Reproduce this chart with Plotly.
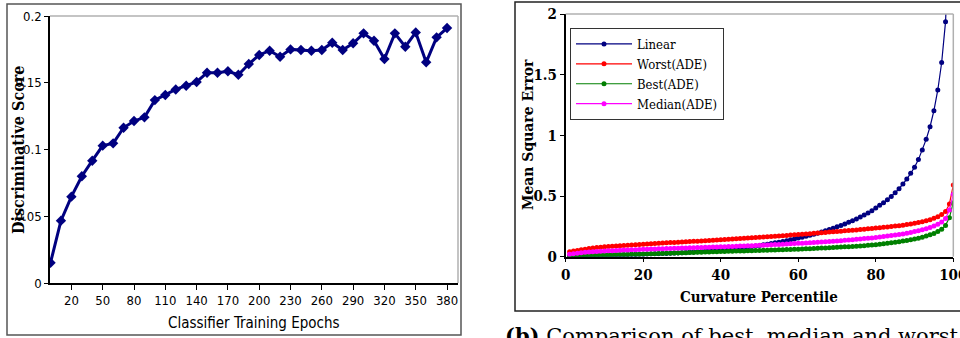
import plotly.graph_objects as go

# ---------------- data: left panel ----------------
epochs = list(range(0, 390, 10))
disc_score = [0.0152, 0.0467, 0.0647, 0.0800, 0.0916, 0.1029, 0.1046, 0.1163, 0.1213, 0.1241,
              0.1370, 0.1408, 0.1450, 0.1478, 0.1506, 0.1575, 0.1575, 0.1586, 0.1560, 0.1640,
              0.1708, 0.1740, 0.1695, 0.1750, 0.1745, 0.1740, 0.1745, 0.1800, 0.1745, 0.1796,
              0.1870, 0.1815, 0.1678, 0.1870, 0.1770, 0.1877, 0.1653, 0.1840, 0.1910]
left_xticks = [20, 50, 80, 110, 140, 170, 200, 230, 260, 290, 320, 350, 380]
left_yticks = [0, 0.05, 0.1, 0.15, 0.2]
left_yticklabels = ["0", "0.05", "0.1", "0.15", "0.2"]

# ---------------- data: right panel ----------------
percentile = list(range(1, 101))
linear = [0.002, 0.003, 0.004, 0.005, 0.006, 0.007, 0.008, 0.009, 0.010, 0.011,
          0.012, 0.013, 0.014, 0.015, 0.016, 0.017, 0.018, 0.019, 0.020, 0.021,
          0.022, 0.023, 0.024, 0.025, 0.026, 0.027, 0.028, 0.030, 0.031, 0.032,
          0.034, 0.036, 0.038, 0.040, 0.042, 0.044, 0.047, 0.050, 0.052, 0.055,
          0.058, 0.061, 0.065, 0.069, 0.073, 0.077, 0.081, 0.085, 0.089, 0.093,
          0.098, 0.103, 0.108, 0.114, 0.120, 0.126, 0.132, 0.139, 0.146, 0.154,
          0.161, 0.169, 0.177, 0.185, 0.194, 0.203, 0.213, 0.224, 0.235, 0.247,
          0.258, 0.270, 0.283, 0.297, 0.311, 0.327, 0.343, 0.360, 0.379, 0.401,
          0.423, 0.445, 0.470, 0.497, 0.527, 0.560, 0.599, 0.640, 0.687, 0.737,
          0.800, 0.879, 0.967, 1.071, 1.203, 1.374, 1.600, 1.937, 2.500, 3.500]
worst = [0.040, 0.046, 0.052, 0.057, 0.062, 0.067, 0.071, 0.075, 0.078, 0.081,
         0.084, 0.087, 0.089, 0.091, 0.093, 0.095, 0.097, 0.099, 0.101, 0.103,
         0.105, 0.107, 0.109, 0.111, 0.112, 0.114, 0.116, 0.118, 0.119, 0.121,
         0.123, 0.125, 0.127, 0.128, 0.130, 0.132, 0.134, 0.136, 0.138, 0.140,
         0.142, 0.144, 0.146, 0.148, 0.150, 0.152, 0.154, 0.156, 0.158, 0.160,
         0.162, 0.164, 0.166, 0.168, 0.170, 0.173, 0.175, 0.178, 0.180, 0.183,
         0.185, 0.188, 0.190, 0.193, 0.195, 0.198, 0.200, 0.203, 0.205, 0.208,
         0.210, 0.213, 0.215, 0.218, 0.221, 0.224, 0.227, 0.230, 0.233, 0.236,
         0.239, 0.242, 0.245, 0.249, 0.252, 0.256, 0.260, 0.265, 0.270, 0.275,
         0.281, 0.288, 0.296, 0.305, 0.316, 0.330, 0.347, 0.372, 0.435, 0.590]
best = [0.004, 0.006, 0.008, 0.010, 0.011, 0.012, 0.013, 0.014, 0.015, 0.016,
        0.016, 0.017, 0.018, 0.018, 0.019, 0.019, 0.020, 0.021, 0.021, 0.022,
        0.023, 0.024, 0.025, 0.026, 0.027, 0.028, 0.029, 0.030, 0.031, 0.032,
        0.033, 0.034, 0.035, 0.036, 0.037, 0.038, 0.039, 0.040, 0.041, 0.042,
        0.043, 0.044, 0.045, 0.046, 0.047, 0.048, 0.049, 0.050, 0.051, 0.052,
        0.053, 0.054, 0.055, 0.056, 0.057, 0.058, 0.059, 0.060, 0.061, 0.062,
        0.063, 0.065, 0.066, 0.068, 0.069, 0.071, 0.072, 0.074, 0.076, 0.077,
        0.079, 0.081, 0.083, 0.085, 0.087, 0.089, 0.091, 0.094, 0.096, 0.099,
        0.103, 0.107, 0.111, 0.115, 0.119, 0.124, 0.129, 0.134, 0.140, 0.146,
        0.153, 0.161, 0.170, 0.180, 0.192, 0.207, 0.226, 0.258, 0.322, 0.445]
median = [0.020, 0.025, 0.029, 0.033, 0.036, 0.039, 0.041, 0.043, 0.045, 0.047,
          0.049, 0.050, 0.052, 0.053, 0.055, 0.056, 0.057, 0.058, 0.060, 0.061,
          0.062, 0.063, 0.064, 0.065, 0.066, 0.067, 0.068, 0.069, 0.070, 0.071,
          0.072, 0.073, 0.074, 0.075, 0.076, 0.077, 0.078, 0.079, 0.080, 0.082,
          0.083, 0.084, 0.085, 0.086, 0.088, 0.089, 0.090, 0.091, 0.093, 0.094,
          0.095, 0.097, 0.098, 0.100, 0.101, 0.103, 0.104, 0.106, 0.108, 0.110,
          0.111, 0.113, 0.115, 0.117, 0.119, 0.121, 0.123, 0.125, 0.128, 0.130,
          0.132, 0.135, 0.137, 0.140, 0.143, 0.146, 0.149, 0.152, 0.155, 0.159,
          0.162, 0.166, 0.170, 0.174, 0.178, 0.183, 0.188, 0.194, 0.200, 0.207,
          0.214, 0.222, 0.231, 0.241, 0.253, 0.267, 0.285, 0.315, 0.385, 0.514]
right_xticks = [0, 20, 40, 60, 80, 100]
right_yticks = [0, 0.5, 1, 1.5, 2]
right_yticklabels = ["0", "0.5", "1", "1.5", "2"]

series = [("Linear", linear, "#000080"),
          ("Worst(ADE)", worst, "#FF0000"),
          ("Best(ADE)", best, "#008000"),
          ("Median(ADE)", median, "#FF00FF")]

W, H = 960, 338
def px(x):
    return x / W
def py(y):
    return 1 - y / H

NARROW = "Liberation Sans Narrow, Arial Narrow, DejaVu Sans Condensed, sans-serif"
SERIFC = "DejaVu Serif Condensed, DejaVu Serif, serif"

fig = go.Figure()

fig.add_trace(go.Scatter(
    x=epochs, y=disc_score, mode="lines+markers",
    line=dict(color="#000080", width=3),
    marker=dict(symbol="diamond", size=8, color="#000080"),
    showlegend=False, xaxis="x", yaxis="y"))

for name, vals, col in series:
    fig.add_trace(go.Scatter(
        x=percentile, y=vals, mode="lines+markers", name=name,
        line=dict(color=col, width=1.2),
        marker=dict(symbol="circle", size=5, color=col),
        xaxis="x2", yaxis="y2"))

axis_common = dict(showgrid=False, zeroline=False, automargin=False,
                   showline=True, linecolor="black", linewidth=1.5,
                   ticks="outside", tickcolor="black", ticklabeloverflow="allow")

fig.update_layout(
    width=W, height=H, autosize=False,
    margin=dict(l=0, r=0, t=0, b=0, pad=0),
    paper_bgcolor="white", plot_bgcolor="white",
    xaxis=dict(domain=[px(50), px(458)], range=[-0.5, 390.5],
               tickvals=left_xticks, ticklen=5,
               tickfont=dict(family=NARROW, size=13, color="black"), anchor="y", **axis_common),
    yaxis=dict(domain=[py(283), py(16)], range=[0, 0.2],
               tickvals=left_yticks, ticktext=left_yticklabels, ticklen=4,
               tickfont=dict(family=NARROW, size=13, color="black"), anchor="x", **axis_common),
    xaxis2=dict(domain=[px(565.7), px(953.3)], range=[0, 100],
                tickvals=right_xticks, ticklen=4,
                tickfont=dict(family=SERIFC, size=15, color="black", weight="bold"), anchor="y2",
                **axis_common),
    yaxis2=dict(domain=[py(256.7), py(14)], range=[0, 2],
                tickvals=right_yticks, ticktext=right_yticklabels, ticklen=4,
                tickfont=dict(family=SERIFC, size=15, color="black", weight="bold"), anchor="x2",
                **axis_common),
    legend=dict(x=px(570), y=py(28), xanchor="left", yanchor="top",
                bgcolor="white", bordercolor="#333333", borderwidth=1,
                font=dict(family=SERIFC, size=13, color="black"),
                itemwidth=56, tracegroupgap=0),
)

shapes = []
# outer frames
shapes.append(dict(type="rect", xref="paper", yref="paper",
                   x0=px(7), x1=px(461), y0=py(335), y1=py(4),
                   line=dict(color="#555555", width=1.5)))
shapes.append(dict(type="rect", xref="paper", yref="paper",
                   x0=px(515), x1=px(975), y0=py(311), y1=py(2),
                   line=dict(color="#222222", width=1.5)))
# gray top/right borders of plot areas
shapes.append(dict(type="line", xref="paper", yref="paper",
                   x0=px(50), x1=px(458), y0=py(16), y1=py(16), line=dict(color="#b0b0b0", width=1.5)))
shapes.append(dict(type="line", xref="paper", yref="paper",
                   x0=px(458), x1=px(458), y0=py(16), y1=py(283), line=dict(color="#b0b0b0", width=1.5)))
shapes.append(dict(type="line", xref="paper", yref="paper",
                   x0=px(565.7), x1=px(953.3), y0=py(14), y1=py(14), line=dict(color="#b0b0b0", width=1.5)))
shapes.append(dict(type="line", xref="paper", yref="paper",
                   x0=px(953.3), x1=px(953.3), y0=py(14), y1=py(256.7), line=dict(color="#b0b0b0", width=1.5)))
fig.update_layout(shapes=shapes)

center = dict(xref="paper", yref="paper", xanchor="center", yanchor="middle", showarrow=False)
annotations = [
    dict(text="<b>Discriminative Score</b>", x=px(18), y=py(150), textangle=-90,
         font=dict(family="DejaVu Serif Condensed, DejaVu Serif, serif", size=16, color="black"), **center),
    dict(text="Classifier Training Epochs", x=px(254), y=py(323),
         font=dict(family=NARROW, size=15, color="black"), **center),
    dict(text="<b>Mean Square Error</b>", x=px(528), y=py(135), textangle=-90,
         font=dict(family=SERIFC, size=15.5, color="black"), **center),
    dict(text="<b>Curvature Percentile</b>", x=px(759), y=py(297),
         font=dict(family=SERIFC, size=15, color="black"), **center),
    dict(text="<b>(b)</b> Comparison of best, median and worst", x=px(503), y=py(321),
         xref="paper", yref="paper", xanchor="left", yanchor="top", showarrow=False,
         font=dict(family="DejaVu Serif, serif", size=21, color="black")),
]
fig.update_layout(annotations=annotations)

fig.write_html("out.html",
               config={"displayModeBar": False},
               post_script="document.body.style.margin='0';document.body.style.padding='0';"
                           "document.body.style.overflow='hidden';")
